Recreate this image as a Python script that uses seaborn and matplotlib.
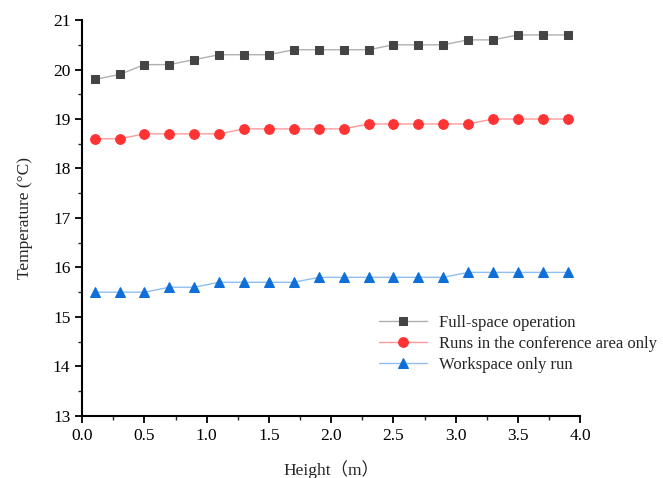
import matplotlib
matplotlib.use("Agg")
import matplotlib.pyplot as plt
import seaborn as sns
import pandas as pd
from matplotlib.ticker import MultipleLocator

height = [0.1, 0.3, 0.5, 0.7, 0.9, 1.1, 1.3, 1.5, 1.7, 1.9, 2.1, 2.3, 2.5, 2.7, 2.9, 3.1, 3.3, 3.5, 3.7, 3.9]
full_space = [19.8, 19.9, 20.1, 20.1, 20.2, 20.3, 20.3, 20.3, 20.4, 20.4, 20.4, 20.4, 20.5, 20.5, 20.5, 20.6, 20.6, 20.7, 20.7, 20.7]
conference = [18.6, 18.6, 18.7, 18.7, 18.7, 18.7, 18.8, 18.8, 18.8, 18.8, 18.8, 18.9, 18.9, 18.9, 18.9, 18.9, 19.0, 19.0, 19.0, 19.0]
workspace = [15.5, 15.5, 15.5, 15.6, 15.6, 15.7, 15.7, 15.7, 15.7, 15.8, 15.8, 15.8, 15.8, 15.8, 15.8, 15.9, 15.9, 15.9, 15.9, 15.9]
series_names = ["Full-space operation", "Runs in the conference area only", "Workspace only run"]

sns.set_style("ticks")
plt.rcParams['font.family'] = ['Liberation Serif', 'DejaVu Serif']

df = pd.DataFrame({
    "Height": height * 3,
    "Temperature": full_space + conference + workspace,
    "Series": [series_names[0]] * len(height) + [series_names[1]] * len(height) + [series_names[2]] * len(height),
})

fig = plt.figure(figsize=(6.63, 4.78), dpi=100)
ax = fig.add_axes([0.124, 0.13, 0.751, 0.828])

line_colors = ["#b0b0b0", "#ff9a9a", "#8fbff0"]
marker_colors = ["#444444", "#ff3333", "#0f6fd8"]
markers = ["s", "o", "^"]
msizes = [6, 7, 7]
for name, lc, mc, mk, ms in zip(series_names, line_colors, marker_colors, markers, msizes):
    sub = df[df["Series"] == name]
    sns.lineplot(data=sub, x="Height", y="Temperature", ax=ax, color=lc, linewidth=1.0,
                 marker=mk, markersize=ms, markerfacecolor=mc, markeredgecolor=mc,
                 label=name)

ax.set_xlim(0, 4.0)
ax.set_ylim(13, 21)
ax.xaxis.set_major_locator(MultipleLocator(0.5))
ax.xaxis.set_minor_locator(MultipleLocator(0.25))
ax.yaxis.set_major_locator(MultipleLocator(1))
ax.yaxis.set_minor_locator(MultipleLocator(0.5))
ax.xaxis.set_major_formatter(matplotlib.ticker.FormatStrFormatter('%.1f'))
for s in ["top", "right"]:
    ax.spines[s].set_visible(False)
for s in ["left", "bottom"]:
    ax.spines[s].set_linewidth(1.5)
    ax.spines[s].set_color("black")
ax.tick_params(which="major", direction="out", length=5, width=1.3, labelsize=12.5, colors="black")
ax.tick_params(which="minor", direction="out", length=3, width=1.0)

ax.set_xlabel("Height\uff08m\uff09", fontsize=12.5, labelpad=12,
              fontfamily=['Liberation Serif', 'Noto Sans CJK SC'])
ax.set_ylabel("Temperature (°C)", fontsize=12.5, labelpad=14)

leg = ax.legend(loc="upper left", bbox_to_anchor=(0.572, 0.285), frameon=False,
                fontsize=12, handlelength=2.9, borderpad=0.2, labelspacing=0.3,
                handletextpad=0.7)

fig.savefig("out.png", dpi=100)
